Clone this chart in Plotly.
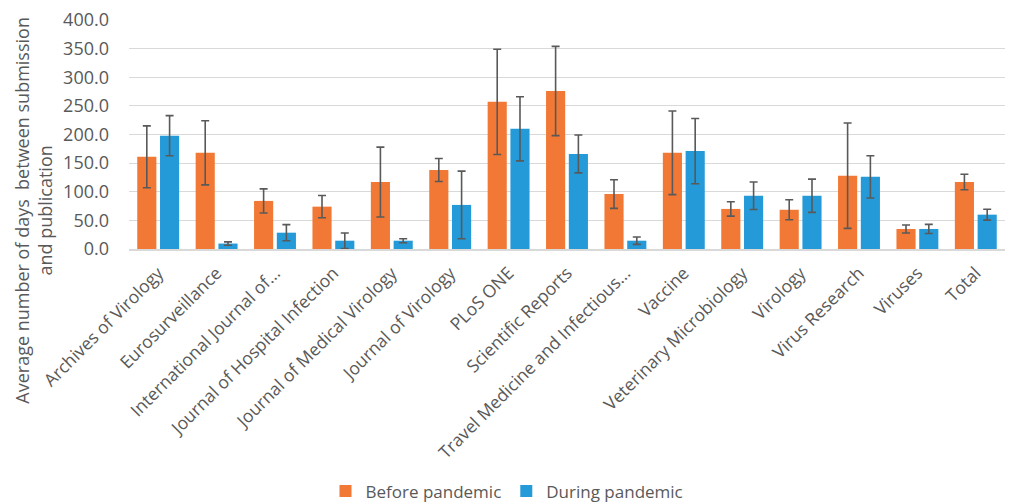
import plotly.graph_objects as go

categories = ["Archives of Virology", "Eurosurveillance", "International Journal of...",
              "Journal of Hospital Infection", "Journal of Medical Virology", "Journal of Virology",
              "PLoS ONE", "Scientific Reports", "Travel Medicine and Infectious...", "Vaccine",
              "Veterinary Microbiology", "Virology", "Virus Research", "Viruses", "Total"]
before = [161, 168, 84, 74, 117, 138, 257, 276, 96, 168, 70, 68.5, 128, 35, 117]
before_err = [54, 56, 21, 19.5, 61, 20, 92, 78, 25, 73, 12.5, 17.5, 92, 7, 13.5]
during = [198, 9.5, 28.5, 14.5, 14.5, 77, 210, 166, 14.5, 171, 93, 93, 126, 35, 60]
during_err = [35, 3, 14, 13.5, 3.5, 59, 56, 33, 6.5, 57, 24, 29, 37, 8, 9.5]

FONT = "Open Sans"
GREY = "#595959"

fig = go.Figure()
fig.add_trace(go.Bar(
    x=categories, y=before, name="Before pandemic",
    marker=dict(color="#F27935", line=dict(width=0)),
    error_y=dict(type="data", array=before_err, visible=True, color=GREY, thickness=1.6, width=4),
))
fig.add_trace(go.Bar(
    x=categories, y=during, name="During pandemic",
    marker=dict(color="#249AD8", line=dict(width=0)),
    error_y=dict(type="data", array=during_err, visible=True, color=GREY, thickness=1.6, width=4),
))

fig.update_layout(
    width=1014, height=504,
    margin=dict(l=129, r=9, t=20, b=255),
    paper_bgcolor="white", plot_bgcolor="white",
    font=dict(family=FONT, color=GREY, size=16),
    barmode="group", bargap=0.22, bargroupgap=0.16,
    showlegend=True,
    legend=dict(orientation="h", xref="container", yref="container", x=0.5, y=0.025,
                xanchor="center", yanchor="middle", font=dict(size=17, color=GREY),
                itemwidth=30, tracegroupgap=0),
    xaxis=dict(tickangle=-45, showgrid=False, showline=True, linecolor="#D9D9D9", linewidth=2,
               ticks="", automargin=False, ticklabelstandoff=5,
               tickfont=dict(size=17.5, color=GREY)),
    yaxis=dict(range=[0, 400], dtick=50, tickformat=".1f", showgrid=True, gridcolor="#D9D9D9",
               gridwidth=1, zeroline=False, showline=False, ticks="", automargin=False,
               ticklabelstandoff=19, tickfont=dict(size=18, color=GREY)),
    annotations=[dict(
        text="Average number of days  between submission<br>and publication",
        textangle=-90, xref="paper", yref="paper", x=-0.11, y=0.17,
        xanchor="center", yanchor="middle", showarrow=False,
        font=dict(size=18, color=GREY, family=FONT),
    )],
)

fig.write_html("out.html", config={"displayModeBar": False},
               post_script="document.body.style.margin='0';document.body.style.padding='0';")
